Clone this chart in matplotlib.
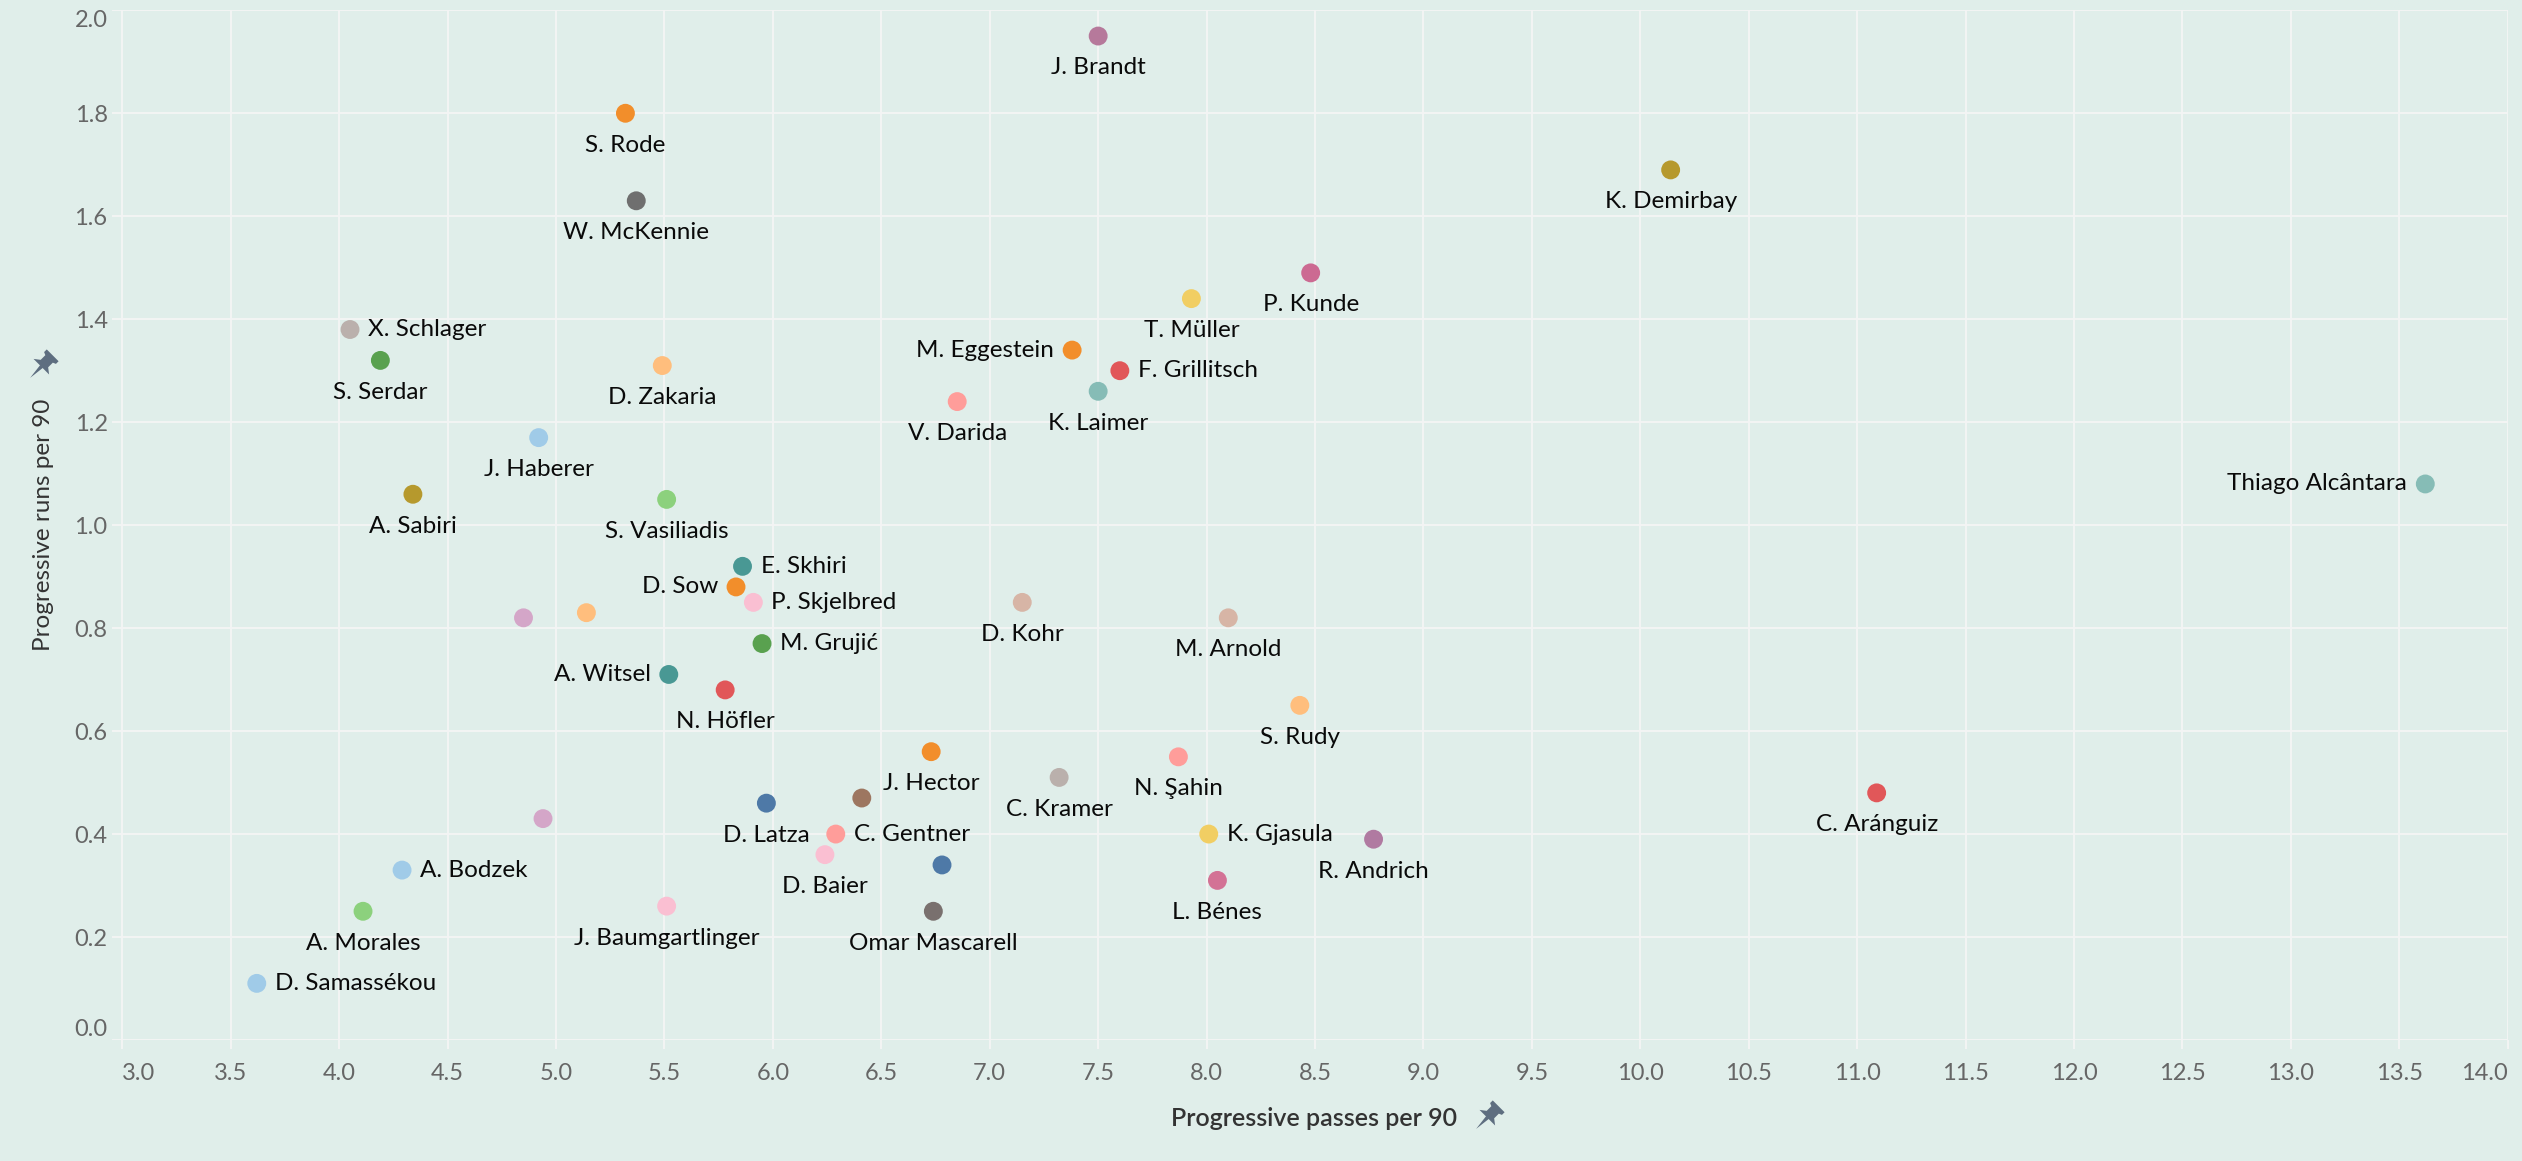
import numpy as np
import matplotlib.pyplot as plt
from matplotlib.patches import Polygon

# player, progressive passes per 90, progressive runs per 90
players = [
    "J. Brandt", "S. Rode", "W. McKennie", "K. Demirbay", "P. Kunde",
    "T. Müller", "X. Schlager", "S. Serdar", "D. Zakaria", "M. Eggestein",
    "F. Grillitsch", "K. Laimer", "V. Darida", "J. Haberer", "Thiago Alcântara",
    "A. Sabiri", "S. Vasiliadis", "E. Skhiri", "D. Sow", "P. Skjelbred",
    "", "", "D. Kohr", "M. Arnold", "M. Grujić",
    "A. Witsel", "N. Höfler", "S. Rudy", "J. Hector", "N. Şahin",
    "C. Kramer", "C. Aránguiz", "D. Latza", "", "",
    "C. Gentner", "K. Gjasula", "R. Andrich", "D. Baier", "",
    "A. Bodzek", "L. Bénes", "J. Baumgartlinger", "Omar Mascarell", "A. Morales",
    "D. Samassékou",
]
prog_passes = [
    7.50, 5.32, 5.37, 10.14, 8.48,
    7.93, 4.05, 4.19, 5.49, 7.38,
    7.60, 7.50, 6.85, 4.92, 13.62,
    4.34, 5.51, 5.86, 5.83, 5.91,
    4.85, 5.14, 7.15, 8.10, 5.95,
    5.52, 5.78, 8.43, 6.73, 7.87,
    7.32, 11.09, 5.97, 6.41, 4.94,
    6.29, 8.01, 8.77, 6.24, 6.78,
    4.29, 8.05, 5.51, 6.74, 4.11,
    3.62,
]
prog_runs = [
    1.95, 1.80, 1.63, 1.69, 1.49,
    1.44, 1.38, 1.32, 1.31, 1.34,
    1.30, 1.26, 1.24, 1.17, 1.08,
    1.06, 1.05, 0.92, 0.88, 0.85,
    0.82, 0.83, 0.85, 0.82, 0.77,
    0.71, 0.68, 0.65, 0.56, 0.55,
    0.51, 0.48, 0.46, 0.47, 0.43,
    0.40, 0.40, 0.39, 0.36, 0.34,
    0.33, 0.31, 0.26, 0.25, 0.25,
    0.11,
]
label_side = [
    "below", "below", "below", "below", "below",
    "below", "right", "below", "below", "left",
    "right", "below", "below", "below", "left",
    "below", "below", "right", "left", "right",
    None, None, "below", "below", "right",
    "left", "below", "below", "below", "below",
    "below", "below", "below", None, None,
    "right", "right", "below", "below", None,
    "right", "below", "below", "below", "below",
    "right",
]
colors = [
    "#b6799b", "#f28e2b", "#6f6f6f", "#b6992d", "#cc6a92",
    "#f1ce63", "#bab0ac", "#59a14f", "#ffbe7d", "#f28e2b",
    "#e15759", "#86bcb6", "#ff9d9a", "#a0cbe8", "#86bcb6",
    "#b6992d", "#8cd17d", "#499894", "#f28e2b", "#fabfd2",
    "#d4a6c8", "#ffbe7d", "#d7b5a6", "#d7b5a6", "#59a14f",
    "#499894", "#e15759", "#ffbe7d", "#f28e2b", "#ff9d9a",
    "#bab0ac", "#e15759", "#4e79a7", "#9d7660", "#d4a6c8",
    "#ff9d9a", "#f1ce63", "#b07aa1", "#fabfd2", "#4e79a7",
    "#a0cbe8", "#d37295", "#fabfd2", "#79706e", "#8cd17d",
    "#a0cbe8",
]

BG = "#e0eeea"
GRID = "#f4f5f5"
W, H = 2522, 1161

plt.rcParams['font.family'] = ['Lato', 'DejaVu Sans']


def draw_pin(fig, cx, cy, size=22, color="#5e6e80"):
    # small push pin, head up-right, needle down-left (pixel coords from top)
    head = [(-0.38, 0.75), (0.38, 0.75), (0.38, 0.58), (0.24, 0.52),
            (0.24, 0.22), (0.50, 0.02), (-0.50, 0.02), (-0.24, 0.22),
            (-0.24, 0.52), (-0.38, 0.58)]
    needle = [(-0.09, 0.05), (0.09, 0.05), (0.0, -0.70)]
    c = s = np.sqrt(0.5)
    for shape in (head, needle):
        pts = []
        for x, y in shape:
            rx, ry = c * x + s * y, -s * x + c * y
            pts.append(((cx + rx * size) / W, 1 - (cy - ry * size) / H))
        fig.add_artist(Polygon(pts, closed=True, facecolor=color,
                               edgecolor="none", transform=fig.transFigure))


fig = plt.figure(figsize=(W / 100, H / 100), dpi=100, facecolor=BG)
ax = fig.add_axes([111.7 / W, 1 - 1040 / H, (2507.7 - 111.7) / W, (1040 - 10.3) / H])
ax.set_facecolor(BG)

ax.scatter(prog_passes, prog_runs, s=185, c=colors, linewidths=0, zorder=3)

for name, x, y, side in zip(players, prog_passes, prog_runs, label_side):
    if side is None:
        continue
    if side == "below":
        off, ha = (0, -23), "center"
    elif side == "right":
        off, ha = (13, 0), "left"
    else:
        off, ha = (-13, 0), "right"
    ax.annotate(name, (x, y), xytext=off, textcoords="offset points",
                ha=ha, va="center", fontsize=17.5, color="#0a0a0a", zorder=4)

ax.set_xlim(2.951, 14.0)
ax.set_ylim(0, 2.0)
xt = np.arange(3.0, 14.01, 0.5)
yt = np.arange(0.0, 2.01, 0.2)
ax.set_xticks(xt)
ax.set_xticklabels(["%.1f" % v for v in xt])
ax.set_yticks(yt)
ax.set_yticklabels(["%.1f" % v for v in yt])
ax.grid(True, color=GRID, linewidth=1.3, zorder=0)
ax.set_axisbelow(True)
for sp in ax.spines.values():
    sp.set_visible(False)
ax.tick_params(axis="x", length=6.5, width=1.3, color=GRID, pad=10,
               labelsize=17, labelcolor="#666666")
ax.tick_params(axis="y", length=0, pad=3, labelsize=17, labelcolor="#666666")

# tableau nudges the end labels inside
ax.get_xticklabels()[0].set_ha("left")
ax.get_xticklabels()[-1].set_ha("right")
ax.get_yticklabels()[0].set_va("bottom")
ax.get_yticklabels()[-1].set_va("top")

fig.text(1314 / W, 1 - 1119 / H, "Progressive passes per 90", ha="center",
         va="center", fontsize=18, color="#333333", fontweight="semibold")
draw_pin(fig, 1487, 1118)
fig.text(44 / W, 1 - 525 / H, "Progressive runs per 90", ha="center",
         va="center", rotation=90, fontsize=17.5, color="#333333")
draw_pin(fig, 41, 367)

fig.savefig("out.png", dpi=100, facecolor=BG)
